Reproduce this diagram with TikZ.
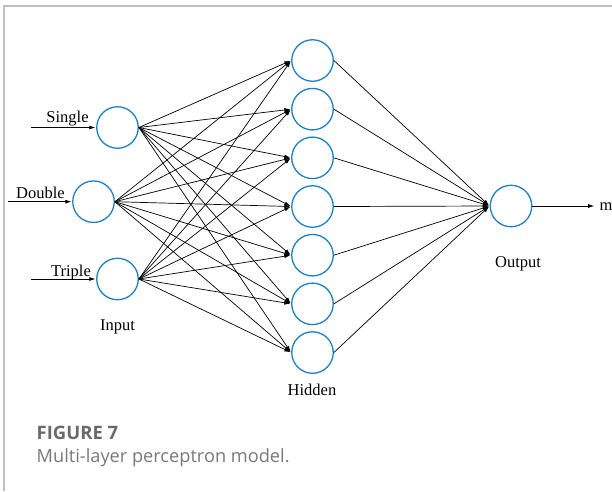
\documentclass[tikz,border=0pt]{standalone}
\usepackage{fontspec}
\setmainfont{Liberation Serif}
\newfontfamily\capfont{Open Sans}
\usetikzlibrary{arrows.meta}
\definecolor{nodeblue}{RGB}{30,128,196}
\definecolor{framegray}{RGB}{192,192,192}
\definecolor{capgray}{RGB}{105,105,105}
\definecolor{textgray}{RGB}{120,120,120}

\begin{document}
\begin{tikzpicture}[x=1pt,y=-1pt,
  neuron/.style={circle,draw=nodeblue,line width=1.3pt,minimum size=41.5pt,inner sep=0pt},
  link/.style={draw=black,line width=0.7pt,-{Latex[length=6pt,width=4pt]},shorten >=0.8pt},
  lbl/.style={font=\fontsize{16.5}{19}\selectfont,anchor=base,inner sep=0pt},
]
\useasboundingbox (0,0) rectangle (612,491);
% panel frame
\draw[framegray,line width=1.4pt] (4,491) -- (4,6) -- (612,6);

% input layer
\node[neuron] (i1) at (117.5,127.5) {};
\node[neuron] (i2) at (93.5,201.7) {};
\node[neuron] (i3) at (117.5,279) {};

% hidden layer
\foreach \k in {1,...,7}
  \node[neuron] (h\k) at (312.5,{60.5+(\k-1)*48.67}) {};

% output layer
\node[neuron] (o) at (511,206) {};

% inputs entering the network
\coordinate (s1) at (31,127.5);
\coordinate (s2) at (8,201.7);
\coordinate (s3) at (31,279);
\draw[link] (s1) -- (i1);
\draw[link] (s2) -- (i2);
\draw[link] (s3) -- (i3);
\node[lbl] (ts) at (67.5,122.5) {Single};
\node[lbl] (td) at (40.5,198.3) {Double};
\node[lbl] (tt) at (71,276) {Triple};

% full connections
\foreach \i in {1,2,3}
  \foreach \j in {1,...,7}
    \draw[link] (i\i.east) -- (h\j.west);
\foreach \j in {1,...,7}
  \draw[link] (h\j.east) -- (o.west);

% network output
\coordinate (mend) at (595,206);
\draw[link] (o.east) -- (mend);
\node[lbl,anchor=base west] (tm) at (599.3,210.7) {m};

% layer names
\node[lbl] (tin) at (117.5,330.3) {Input};
\node[lbl] (thid) at (312,395) {Hidden};
\node[lbl] (tout) at (518,267) {Output};

% caption
\node[anchor=base west,inner sep=0pt,text=capgray,font=\capfont\fontsize{18.5}{22}\selectfont\bfseries] (fig) at (36.5,439) {FIGURE 7};
\node[anchor=base west,inner sep=0pt,text=textgray,font=\capfont\fontsize{18.2}{22}\selectfont] (cap) at (36.5,462.3) {Multi-layer perceptron model.};
\end{tikzpicture}
\end{document}
